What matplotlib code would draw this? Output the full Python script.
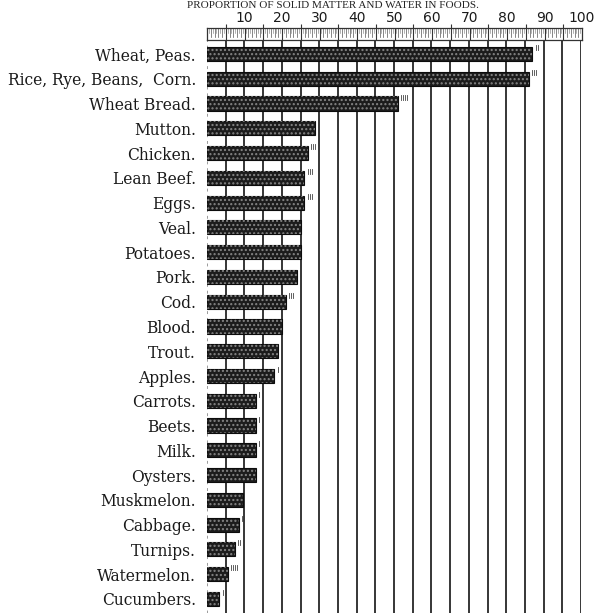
import numpy as np
import matplotlib
matplotlib.use("Agg")
import matplotlib.pyplot as plt

# Per cent of solid matter in each food (the rest is water)
foods = ["Wheat, Peas.", "Rice, Rye, Beans,  Corn.", "Wheat Bread.", "Mutton.",
         "Chicken.", "Lean Beef.", "Eggs.", "Veal.", "Potatoes.", "Pork.", "Cod.",
         "Blood.", "Trout.", "Apples.", "Carrots.", "Beets.", "Milk.", "Oysters.",
         "Muskmelon.", "Cabbage.", "Turnips.", "Watermelon.", "Cucumbers."]
solids = [87, 86, 51, 29, 27, 26, 26, 25, 25, 24, 21, 20, 19, 18,
          13, 13, 13, 13, 9.5, 8.5, 7.5, 5.5, 3.3]
# little fraction marks printed after some of the bars
marks = [2, 3, 4, 0, 3, 3, 3, 0, 0, 0, 3, 0, 0, 1, 1, 1, 1, 0, 0, 1, 2, 4, 1]

title = "PROPORTION OF SOLID MATTER AND WATER IN FOODS."
scale_labels = [10, 20, 30, 40, 50, 60, 70, 80, 90, 100]

W, H = 595, 613
fig = plt.figure(figsize=(W / 100, H / 100), dpi=100)

x0, x1 = 207, 581          # pixel span of 0..100
top, bottom = 40, 613      # pixel span of the bar area
row0, step = 54, 24.77     # first row centre and row pitch in pixels

ax = fig.add_axes([x0 / W, 0, (x1 - x0) / W, (bottom - top) / H])
n = len(foods)
ypos = np.arange(n)
ax.set_xlim(0, 100)
ax.set_ylim((bottom - row0) / step, (top - row0) / step)

# vertical rules every five per cent
for v in range(5, 101, 5):
    ax.axvline(v, color="#262626", lw=1.3, zorder=1)
ax.axvline(0, color="#9a9a9a", lw=0.7, ls=(0, (3, 4)), zorder=1)

# textured dark bars
ax.barh(ypos, solids, height=0.57, color="#1c1c1c", edgecolor="#0c0c0c",
        lw=0.8, zorder=2)
ax.barh(ypos, solids, height=0.57, facecolor="none", edgecolor="#858585",
        lw=0, hatch="....", zorder=3)

for i, (v, k) in enumerate(zip(solids, marks)):
    for j in range(k):
        ax.plot([v + 0.9 + 0.55 * j] * 2, [i - 0.36, i - 0.16],
                color="#444", lw=0.6, zorder=3)

ax.set_yticks(ypos)
ax.set_yticklabels(foods, family="DejaVu Serif", fontsize=11.2, color="#1a1a1a")
ax.tick_params(axis="y", length=0, pad=8)
ax.set_xticks([])
for s in ax.spines.values():
    s.set_visible(False)

# ruler across the top
ax_r = fig.add_axes([x0 / W, (H - 40) / H, (x1 - x0 + 1) / W, 12 / H])
ax_r.set_xlim(0, 100)
ax_r.set_ylim(0, 1)
for v in np.arange(0.5, 100, 0.5):
    if v % 5 == 0:
        ax_r.plot([v, v], [0, 1], color="#333", lw=0.8)
    elif v % 1 == 0:
        ax_r.plot([v, v], [0.25, 1], color="#555", lw=0.5)
    else:
        ax_r.plot([v, v], [0.55, 1], color="#777", lw=0.4)
ax_r.set_yticks([])
ax_r.set_xticks(scale_labels)
ax_r.set_xticklabels([str(v) for v in scale_labels], family="DejaVu Sans",
                     fontsize=10, color="#1a1a1a")
ax_r.set_xticks(range(5, 100, 10), minor=True)
ax_r.xaxis.tick_top()
ax_r.tick_params(axis="x", which="major", length=0, pad=2)
ax_r.tick_params(axis="x", which="minor", length=3, width=0.8, color="#333")
for s in ax_r.spines.values():
    s.set_linewidth(0.9)
    s.set_color("#333")

# running title along the top edge of the page
fig.text(0.56, 1 - 1 / H, title, ha="center", va="top", family="Liberation Serif",
         fontsize=8, color="#222")

fig.savefig("out.png", dpi=100, facecolor="white")
